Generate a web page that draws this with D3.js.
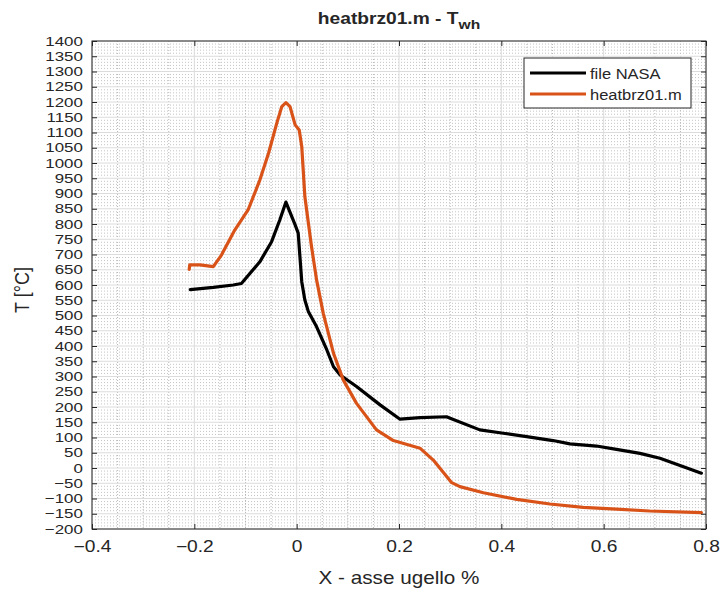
<!DOCTYPE html>
<html><head><meta charset="utf-8">
<script src="https://cdn.jsdelivr.net/npm/d3@7"></script>
<style>
body{margin:0;background:#fff;}
svg{display:block;}
text{font-family:"Liberation Sans",Arial,Helvetica,sans-serif;fill:#262626;}
</style></head>
<body>
<svg id="chart" width="724" height="594"></svg>
<script>
const nasaX = [-0.208,-0.163,-0.124,-0.108,-0.072,-0.049,-0.033,-0.021,-0.003,0.003,0.010,0.016,0.023,0.039,0.059,0.072,0.085,0.117,0.163,0.202,0.241,0.293,0.300,0.358,0.404,0.456,0.501,0.534,0.586,0.625,0.671,0.710,0.756,0.791];
const nasaT = [585,592,600,605,676,742,813,872,797,770,610,551,512,463,387,332,305,267,207,160,165,168,163,125,114,101,90,79,72,61,48,32,4,-17];
const heatX = [-0.210,-0.209,-0.189,-0.163,-0.147,-0.121,-0.095,-0.072,-0.055,-0.039,-0.029,-0.021,-0.013,-0.003,0.005,0.010,0.016,0.029,0.039,0.052,0.072,0.091,0.117,0.156,0.189,0.241,0.267,0.303,0.319,0.365,0.430,0.495,0.560,0.625,0.690,0.791];
const heatT = [651,666,666,660,698,780,846,944,1032,1130,1185,1198,1185,1125,1108,1053,890,726,616,507,376,289,212,125,90,65,26,-48,-61,-81,-103,-118,-129,-135,-141,-146];
const xTicks = [-0.4,-0.2,0,0.2,0.4,0.6,0.8];
const yTicks = d3.range(-200,1401,50);
const seriesNames = ["file NASA","heatbrz01.m"];
const seriesColors = ["#000000","#d95319"];

const svg = d3.select("#chart");
const L=92,R=706,T=41,B=529;
const x = d3.scaleLinear().domain([-0.4,0.8]).range([L,R]);
const y = d3.scaleLinear().domain([-200,1400]).range([B,T]);

// minor grid
const gMinor = svg.append("g");
const xMinor = d3.range(-0.4,0.8001,0.05).filter(v=>Math.abs(Math.round(v/0.2)*0.2-v)>1e-6);
const yMinor = d3.range(-200,1401,10).filter(v=>v%50!==0);
gMinor.selectAll("line.xm").data(xMinor).enter().append("line")
  .attr("x1",d=>x(d)).attr("x2",d=>x(d)).attr("y1",T).attr("y2",B)
  .attr("stroke","#b8b8b8").attr("stroke-width",1).attr("stroke-dasharray","1,2");
gMinor.selectAll("line.ym").data(yMinor).enter().append("line")
  .attr("x1",L).attr("x2",R).attr("y1",d=>y(d)).attr("y2",d=>y(d))
  .attr("stroke","#c4c4c4").attr("stroke-width",1).attr("stroke-dasharray","1,2");
// major grid
const gMajor = svg.append("g");
gMajor.selectAll("line.xg").data(xTicks).enter().append("line")
  .attr("x1",d=>x(d)).attr("x2",d=>x(d)).attr("y1",T).attr("y2",B)
  .attr("stroke","#dcdcdc").attr("stroke-width",1);
gMajor.selectAll("line.yg").data(yTicks).enter().append("line")
  .attr("x1",L).attr("x2",R).attr("y1",d=>y(d)).attr("y2",d=>y(d))
  .attr("stroke","#dcdcdc").attr("stroke-width",1);

// lines
const line = d3.line().x(d=>x(d[0])).y(d=>y(d[1]));
const nasa = nasaX.map((v,i)=>[v,nasaT[i]]);
const heat = heatX.map((v,i)=>[v,heatT[i]]);
svg.append("path").datum(nasa).attr("d",line).attr("fill","none")
  .attr("stroke",seriesColors[0]).attr("stroke-width",3.2).attr("stroke-linejoin","round").attr("stroke-linecap","round");
svg.append("path").datum(heat).attr("d",line).attr("fill","none")
  .attr("stroke",seriesColors[1]).attr("stroke-width",3.2).attr("stroke-linejoin","round").attr("stroke-linecap","round");

// axes
const axStyle = (fs,sx)=>g=>{ g.select(".domain").remove(); g.selectAll("line").attr("stroke","#262626");
  g.selectAll("text").style("font-size",fs+"px").attr("fill","#262626").attr("transform",`scale(${sx},1)`); };
svg.append("g").attr("transform",`translate(0,${B})`)
  .call(d3.axisBottom(x).tickValues(xTicks).tickFormat(d=>d===0?"0":d3.format(".1f")(d)).tickSize(-5).tickPadding(12))
  .call(axStyle(16,1.2));
svg.append("g").attr("transform",`translate(0,${T})`)
  .call(d3.axisTop(x).tickValues(xTicks).tickSize(-5).tickFormat(""))
  .call(axStyle(16,1));
svg.append("g").attr("transform",`translate(${L},0)`)
  .call(d3.axisLeft(y).tickValues(yTicks).tickFormat(d3.format("d")).tickSize(-5).tickPadding(7))
  .call(axStyle(13,1.3));
svg.append("g").attr("transform",`translate(${R},0)`)
  .call(d3.axisRight(y).tickValues(yTicks).tickSize(-5).tickFormat(""))
  .call(axStyle(13,1));
svg.append("rect").attr("x",L).attr("y",T).attr("width",R-L).attr("height",B-T)
  .attr("fill","none").attr("stroke","#262626").attr("stroke-width",1);

// title
const title = svg.append("g").attr("transform",`translate(${(L+R)/2},24) scale(1.2,1)`)
  .append("text").attr("text-anchor","middle")
  .style("font-size","16px").style("font-weight","bold");
title.append("tspan").text("heatbrz01.m - T");
title.append("tspan").attr("dy",5).style("font-size","13px").text("wh");

// axis labels
svg.append("g").attr("transform",`translate(${(L+R)/2},584) scale(1.15,1)`)
  .append("text").attr("text-anchor","middle").style("font-size","18px").text("X - asse ugello %");
svg.append("g").attr("transform",`translate(29,290) rotate(-90) scale(1,1.15)`)
  .append("text").attr("text-anchor","middle").style("font-size","18px").text("T [°C]");

// legend
const lg = svg.append("g");
lg.append("rect").attr("x",524).attr("y",58).attr("width",167).attr("height",50)
  .attr("fill","#fff").attr("stroke","#262626").attr("stroke-width",1);
seriesNames.forEach((n,i)=>{
  const yy = 73 + i*21;
  lg.append("line").attr("x1",530).attr("x2",586).attr("y1",yy).attr("y2",yy)
    .attr("stroke",seriesColors[i]).attr("stroke-width",3.2);
  lg.append("g").attr("transform",`translate(590,${yy+5.5}) scale(1.1,1)`)
    .append("text").style("font-size","15px").text(n);
});
</script>
</body></html>
